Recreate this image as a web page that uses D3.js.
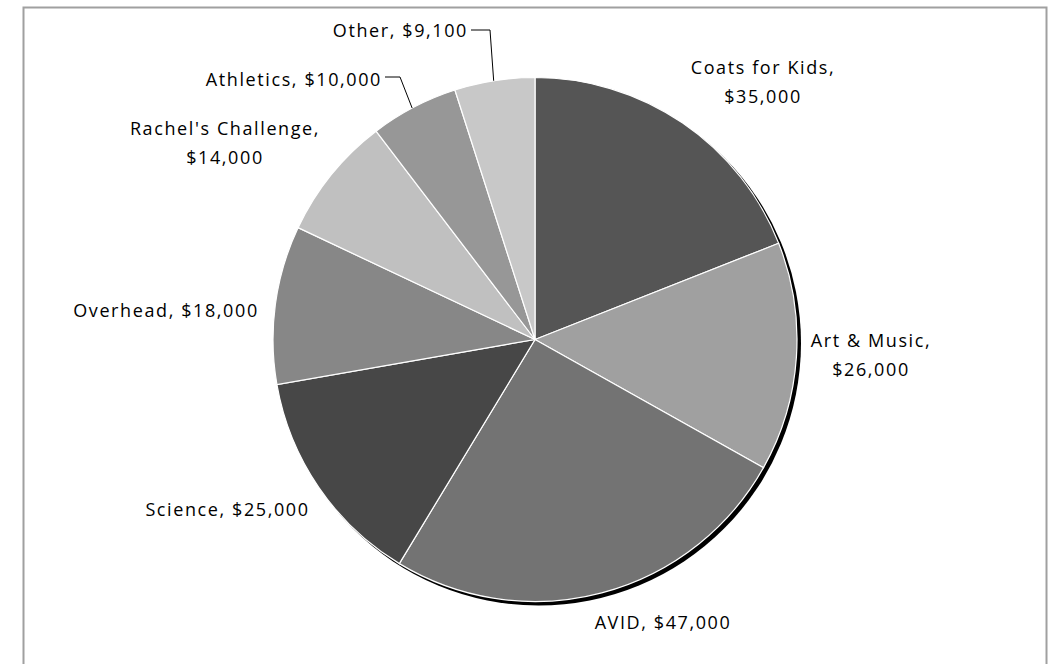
<!DOCTYPE html>
<html>
<head>
<meta charset="utf-8">
<script src="https://cdn.jsdelivr.net/npm/d3@7"></script>
<style>
  body { margin: 0; background: #fff; }
  svg text { font-family: "Open Sans", Lato, sans-serif; font-size: 18px; letter-spacing: 1.6px; fill: #000; }
</style>
</head>
<body>
<svg id="chart" width="1062" height="664"></svg>
<script>
// data
const categories = ["Coats for Kids", "Art & Music", "AVID", "Science", "Overhead", "Rachel's Challenge", "Athletics", "Other"];
const amounts = [35000, 26000, 47000, 25000, 18000, 14000, 10000, 9100];
const greys = ["#555555", "#a0a0a0", "#737373", "#474747", "#878787", "#c0c0c0", "#979797", "#c8c8c8"];

// label layout: lines, anchor point relative to the pie centre
const labelLines = [
    ["Coats for Kids,", "$35,000"],
    ["Art & Music,", "$26,000"],
    ["AVID, $47,000"],
    ["Science, $25,000"],
    ["Overhead, $18,000"],
    ["Rachel's Challenge,", "$14,000"],
    ["Athletics, $10,000"],
    ["Other, $9,100"]
];
const labelOffsets = [[228, -265.5], [336, 7.5], [128, 289.5], [-307.5, 176.5], [-369, -22.5], [-310, -204.5], [-153, -253.5], [-67, -302.5]];
const labelAnchor = ["middle", "middle", "middle", "middle", "middle", "middle", "end", "end"];

const svg = d3.select('#chart');
const cx = 535, cy = 339.5, radius = 262;

// chart area border
svg.append('rect')
    .attr('x', 23.5).attr('y', 7.5)
    .attr('width', 1023).attr('height', 700)
    .attr('fill', 'none')
    .attr('stroke', '#a0a0a0')
    .attr('stroke-width', 2);

const pieData = d3.pie().sort(null)(amounts);
const arc = d3.arc().innerRadius(0).outerRadius(radius);

const g = svg.append('g').attr('transform', `translate(${cx}, ${cy})`);

// shadow
g.append('circle')
    .attr('cx', 3.5).attr('cy', 3.5)
    .attr('r', radius + 0.5)
    .attr('fill', '#000');

g.selectAll('path.slice')
    .data(pieData)
    .enter()
    .append('path')
    .attr('class', 'slice')
    .attr('d', arc)
    .attr('fill', (d, i) => greys[i])
    .attr('stroke', '#fff')
    .attr('stroke-width', 1.2);

// labels
const lineH = 29;
pieData.forEach((d, i) => {
    const [dx, dy] = labelOffsets[i];
    const t = g.append('text')
        .attr('text-anchor', labelAnchor[i])
        .attr('x', dx).attr('y', dy);
    labelLines[i].forEach((s, k) => {
        t.append('tspan').attr('x', dx).attr('dy', k === 0 ? 0 : lineH).text(s);
    });
});

// leader lines for the two small slices
function edgePoint(d, frac) {
    const a = d.startAngle + (d.endAngle - d.startAngle) * frac;
    return [radius * Math.sin(a), -radius * Math.cos(a)];
}
const leaders = [
    { idx: 6, from: [-150, -262.5], bend: [-135, -262.5], frac: 0.48 },
    { idx: 7, from: [-64, -309.5], bend: [-45, -309.5], frac: 0.49 }
];
leaders.forEach(l => {
    const p = edgePoint(pieData[l.idx], l.frac);
    g.append('polyline')
        .attr('points', [l.from, l.bend, p].map(q => q.join(',')).join(' '))
        .attr('fill', 'none')
        .attr('stroke', '#000')
        .attr('stroke-width', 1);
});
</script>
</body>
</html>
